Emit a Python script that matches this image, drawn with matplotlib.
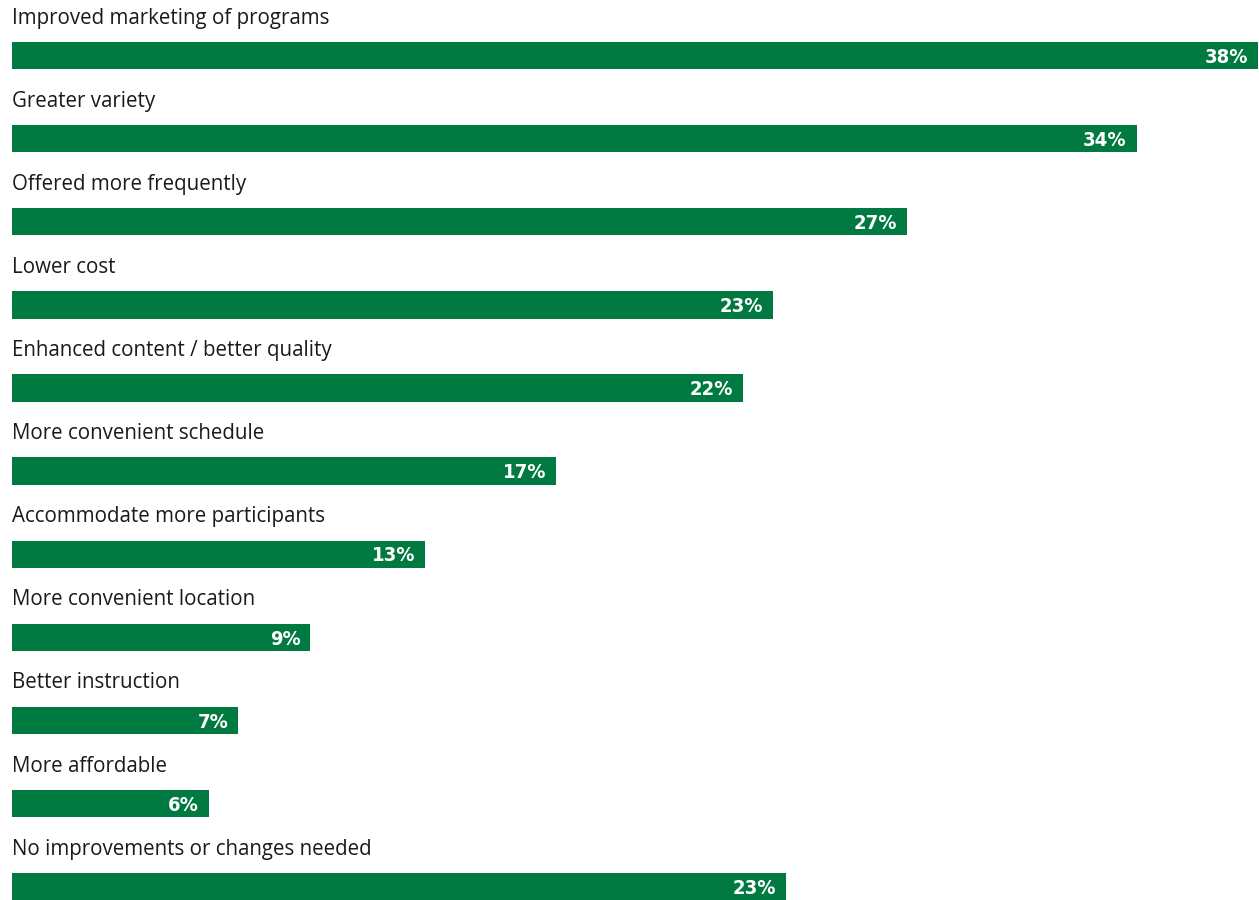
import matplotlib
matplotlib.use('Agg')
from matplotlib import pyplot as plt
from matplotlib import font_manager

# categories, top to bottom
categories = [
    "Improved marketing of programs",
    "Greater variety",
    "Offered more frequently",
    "Lower cost",
    "Enhanced content / better quality",
    "More convenient schedule",
    "Accommodate more participants",
    "More convenient location",
    "Better instruction",
    "More affordable",
    "No improvements or changes needed",
]
# bar lengths as drawn (unrounded estimates), and the printed labels
values = [38.0, 34.3, 27.3, 23.2, 22.3, 16.6, 12.6, 9.1, 6.9, 6.0, 23.6]
labels = ["38%", "34%", "27%", "23%", "22%", "17%", "13%", "9%", "7%", "6%", "23%"]

green = '#007A40'

# look for a condensed bold face for the value labels
def is_bold(f):
    w = f.weight
    if isinstance(w, str):
        return w in ('bold', 'heavy', 'extra bold', 'black')
    return w >= 700

cands = [f for f in font_manager.fontManager.ttflist
         if is_bold(f) and (f.stretch in ('condensed', 'semi-condensed', 'extra-condensed')
                            or 'Condensed' in f.name or 'Narrow' in f.name
                            or 'Condensed' in f.fname or 'Narrow' in f.fname)
         and 'Italic' not in f.fname and f.style == 'normal']
print([(f.name, f.fname) for f in cands])
if cands:
    pref = sorted(cands, key=lambda f: (0 if 'Bold' in f.fname and 'Extra' not in f.fname
                                        and 'Semi' not in f.fname else 1, f.fname))
    val_font = font_manager.FontProperties(fname=pref[0].fname, size=14.5)
else:
    val_font = font_manager.FontProperties(family='DejaVu Sans', weight='bold', size=13)

fig = plt.figure(figsize=(12.59, 9), dpi=100)
ax = fig.add_axes([12 / 1259, 0, 1246 / 1259, 1])

ypos = list(range(len(categories)))
ax.barh(ypos, values, height=0.33, color=green, align='center')

for y, cat, v, lab in zip(ypos, categories, values, labels):
    ax.text(0, y - 0.385, cat, ha='left', va='baseline', fontsize=14.8,
            family=['Open Sans', 'DejaVu Sans'], color='#1a1a1a')
    ax.text(v - 0.3, y + 0.02, lab, ha='right', va='center',
            fontproperties=val_font, color='white')

ax.set_xlim(0, 38.0)
ax.set_ylim(10.16, -0.668)
ax.axis('off')

fig.savefig('out.png', dpi=100)
